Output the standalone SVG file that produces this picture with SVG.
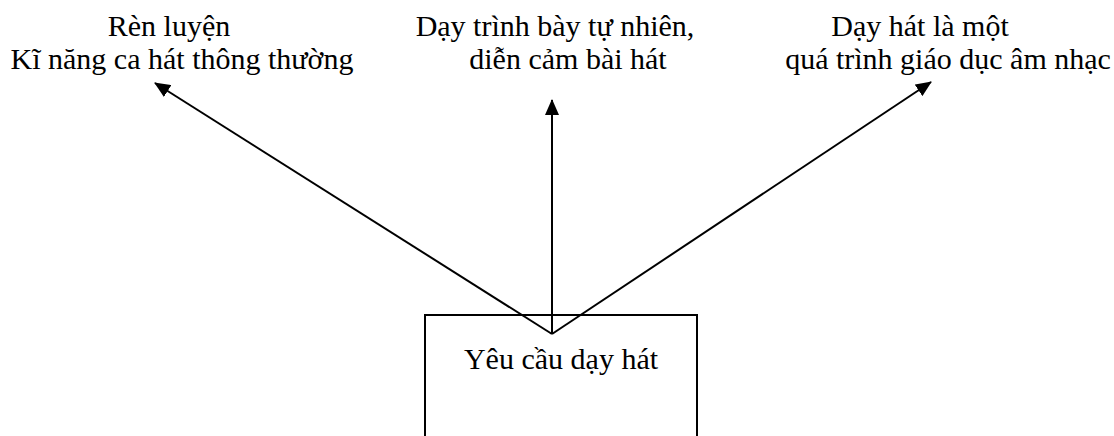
<svg xmlns="http://www.w3.org/2000/svg" width="1114" height="436" viewBox="0 0 1114 436">
<style>
text{font-family:"Liberation Serif","Times New Roman",serif;font-size:30px;fill:#000}
.c{stroke:#000;stroke-width:2;fill:none}
</style>
<defs>
<marker id="ah" markerWidth="16" markerHeight="14" refX="15" refY="7" orient="auto" markerUnits="userSpaceOnUse" viewBox="0 0 16 14">
<path d="M0,0 L16,7 L0,14 z" fill="#000"/>
</marker>
</defs>
<rect width="1114" height="436" fill="#fff"/>
<g id="connectors">
<line class="c" x1="552" y1="334" x2="155" y2="83" marker-end="url(#ah)"/>
<line class="c" x1="552" y1="334" x2="552" y2="100" marker-end="url(#ah)"/>
<line class="c" x1="552" y1="334" x2="931" y2="82" marker-end="url(#ah)"/>
</g>
<g id="center">
<path class="c" d="M425,440 V315 H697 V440"/>
<text x="561" y="369" text-anchor="middle">Yêu cầu dạy hát</text>
</g>
<g id="left">
<text x="169" y="36" text-anchor="middle">Rèn luyện</text>
<text x="182" y="69" text-anchor="middle">Kĩ năng ca hát thông thường</text>
</g>
<g id="middle">
<text x="555" y="36" text-anchor="middle">Dạy trình bày tự nhiên,</text>
<text x="568" y="69" text-anchor="middle">diễn cảm bài hát</text>
</g>
<g id="right">
<text x="920" y="36" text-anchor="middle">Dạy hát là một</text>
<text x="948" y="69" text-anchor="middle">quá trình giáo dục âm nhạc</text>
</g>
</svg>
